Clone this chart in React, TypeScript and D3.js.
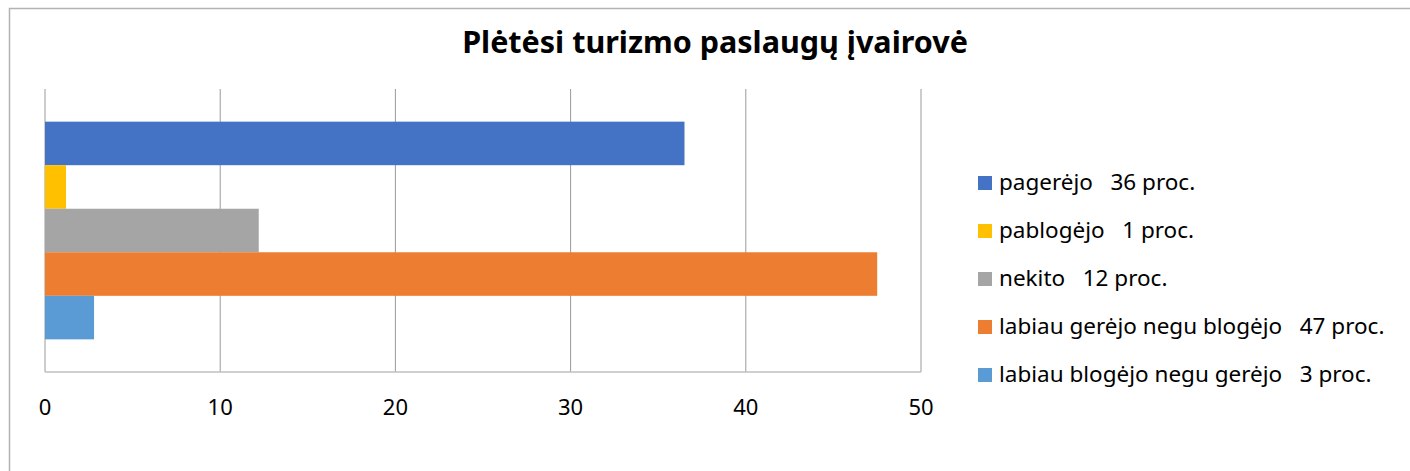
import * as d3 from 'd3'

const title = 'Plėtėsi turizmo paslaugų įvairovė'
const seriesNames = [
  'pagerėjo   36 proc.',
  'pablogėjo   1 proc.',
  'nekito   12 proc.',
  'labiau gerėjo negu blogėjo   47 proc.',
  'labiau blogėjo negu gerėjo   3 proc.',
]
const seriesValues = [36.5, 1.2, 12.2, 47.5, 2.8]
const seriesColors = ['#4472c4', '#ffc000', '#a5a5a5', '#ed7d31', '#5b9bd5']
const xTicks = [0, 10, 20, 30, 40, 50]

const W = 1410
const H = 471
const font = '"Noto Sans", "Open Sans", sans-serif'

export default function App() {
  const x = d3.scaleLinear().domain([0, 50]).range([45, 921])
  const y = d3
    .scaleBand<string>()
    .domain(seriesNames)
    .range([89, 372])
    .paddingInner(0)
    .paddingOuter(0.75)

  // legend rows, one per series
  const legendY = d3.scalePoint<string>().domain(seriesNames).range([190, 382])

  return (
    <svg
      width={W}
      height={H}
      style={{ position: 'absolute', left: 0, top: 0, display: 'block', background: '#fff' }}
    >
      {/* chart frame */}
      <rect x={9.5} y={8.5} width={W + 20} height={H + 20} fill="#fff" stroke="#b3b3b3" strokeWidth={1.5} />

      <text
        x={715}
        y={53}
        textAnchor="middle"
        fontFamily={font}
        fontWeight={700}
        fontSize={30.5}
        fill="#000"
      >
        {title}
      </text>

      {/* gridlines */}
      {xTicks.map((t) => (
        <line key={t} x1={x(t)} x2={x(t)} y1={89} y2={372} stroke="#9a9a9a" strokeWidth={1} />
      ))}
      <line x1={x(0)} x2={x(50)} y1={372} y2={372} stroke="#bfbfbf" strokeWidth={1.5} />

      {/* bars */}
      {seriesNames.map((s, i) => (
        <rect
          key={s}
          x={x(0)}
          y={y(s)}
          width={x(seriesValues[i]) - x(0)}
          height={y.bandwidth()}
          fill={seriesColors[i]}
        />
      ))}

      {/* tick labels */}
      {xTicks.map((t) => (
        <text
          key={t}
          x={x(t)}
          y={415}
          textAnchor="middle"
          fontFamily={font}
          fontSize={22}
          fill="#000"
        >
          {t}
        </text>
      ))}

      {/* legend */}
      {seriesNames.map((s, i) => (
        <g key={s} transform={`translate(978, ${legendY(s)})`}>
          <rect x={0} y={-14} width={14} height={14} fill={seriesColors[i]} />
          <text x={21} y={0} fontFamily={font} fontSize={22.5} fill="#000" style={{ whiteSpace: 'pre' }}>
            {s}
          </text>
        </g>
      ))}
    </svg>
  )
}
